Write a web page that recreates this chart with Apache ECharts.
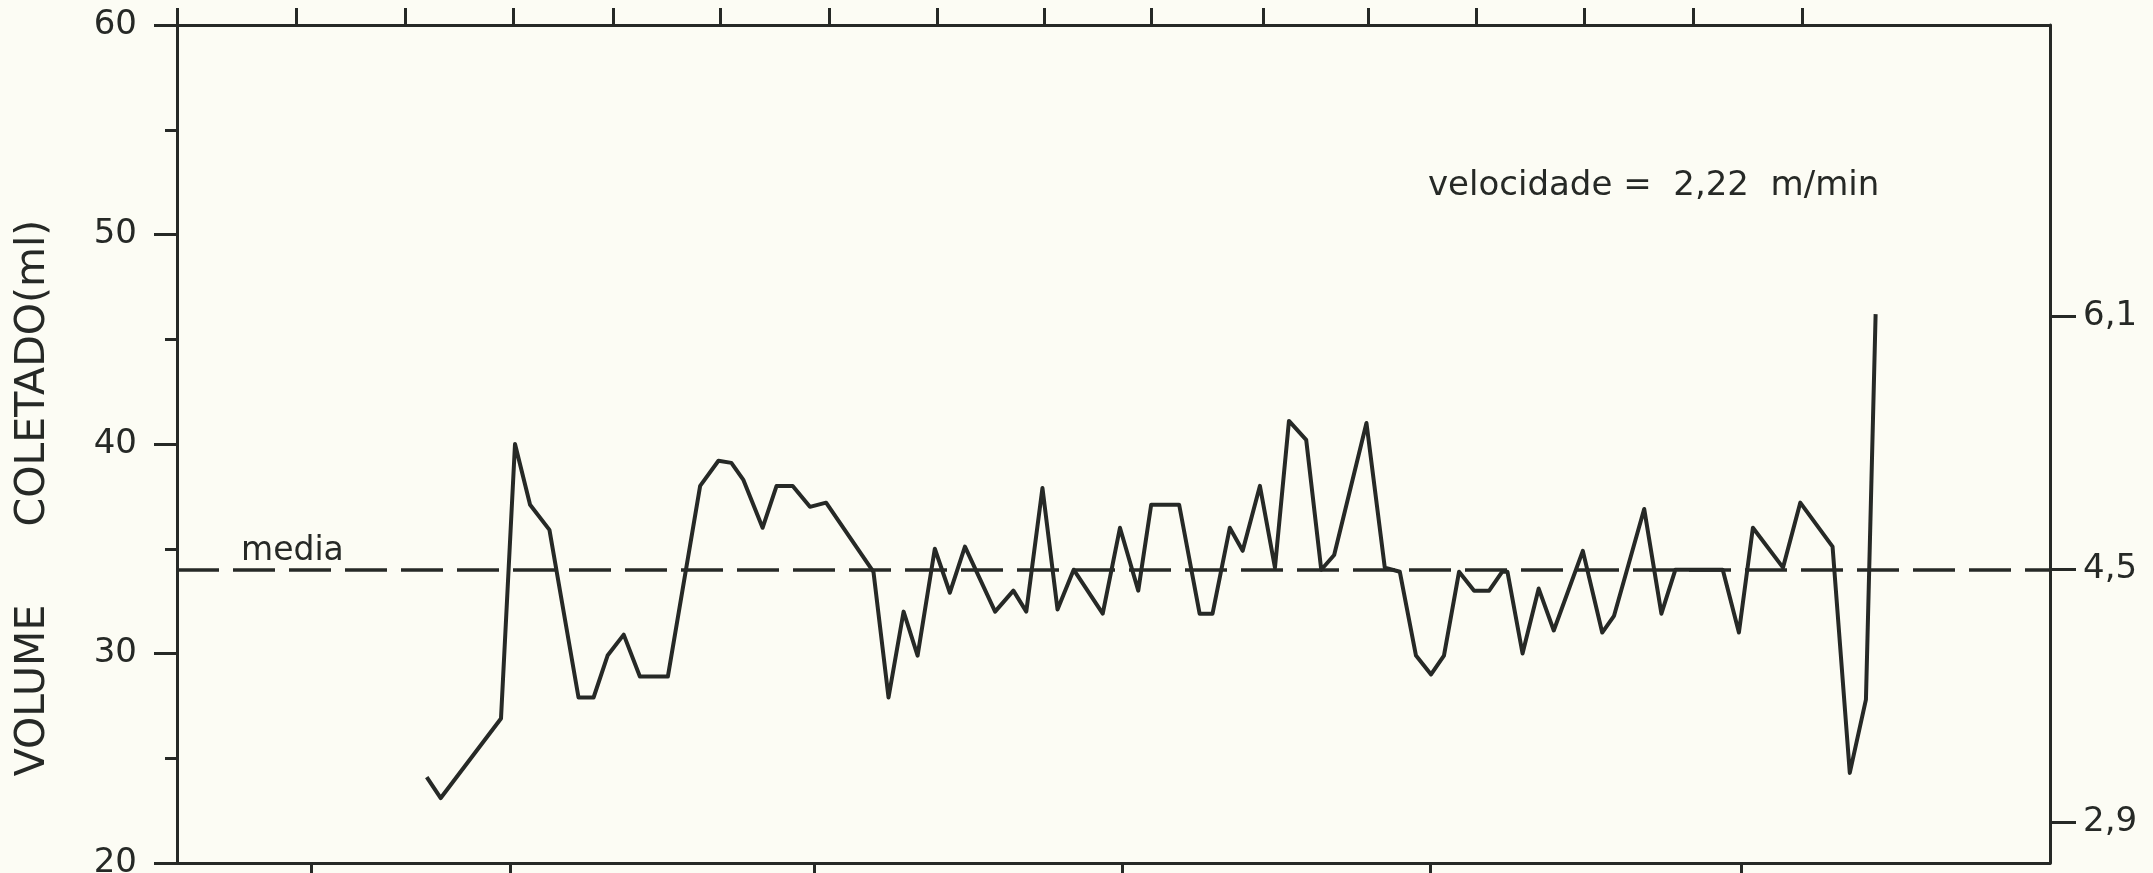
<!DOCTYPE html>
<html>
<head>
<meta charset="utf-8">
<script src="https://cdn.jsdelivr.net/npm/echarts@6/dist/echarts.min.js"></script>
<style>
html,body{margin:0;padding:0;background:#fcfcf4;}
#chart{width:2153px;height:873px;}
</style>
</head>
<body>
<div id="chart"></div>
<script>
// distance along the run (arbitrary units, top ticks about every 10)
const positions = [23.2,24.5,30.1,31.4,32.8,34.6,37.3,38.7,40.0,41.5,43.0,45.6,48.6,50.3,51.5,52.6,54.4,55.7,57.2,58.8,60.3,64.7,66.1,67.5,68.8,70.4,71.8,73.2,76.0,77.7,78.9,80.4,81.8,83.3,86.0,87.6,89.3,90.5,93.1,95.0,96.2,97.8,99.0,100.6,102.0,103.3,104.9,106.3,107.5,110.5,112.2,113.6,115.1,116.5,117.7,119.1,120.5,121.9,123.1,123.6,125.0,126.5,127.9,130.6,132.4,133.5,136.3,137.9,139.2,143.6,145.1,146.4,149.2,150.8,153.8,155.4,156.9,157.8];
// volume collected (ml)
const volumes = [24.1,23.1,26.9,40.0,37.1,35.9,27.9,27.9,29.9,30.9,28.9,28.9,38.0,39.2,39.1,38.3,36.0,38.0,38.0,37.0,37.2,33.9,27.9,32.0,29.9,35.0,32.9,35.1,32.0,33.0,32.0,37.9,32.1,34.0,31.9,36.0,33.0,37.1,37.1,31.9,31.9,36.0,34.9,38.0,34.1,41.1,40.2,34.0,34.7,41.0,34.1,33.9,29.9,29.0,29.9,33.9,33.0,33.0,33.9,33.9,30.0,33.1,31.1,34.9,31.0,31.8,36.9,31.9,34.0,34.0,31.0,36.0,34.1,37.2,35.1,24.3,27.8,46.2];
const mediaValue = 34;
const mediaLabel = 'media';
const topTicks = [0, 11.05, 21.2, 31.2, 40.5, 50.5, 60.6, 70.6, 80.6, 90.5, 100.9, 110.7, 120.7, 130.7, 140.9, 151.0];
const bottomTicks = [12.5, 31.0, 59.2, 87.8, 116.4, 145.3];
const rightTicks = [2.9, 4.5, 6.1];
const yTitle = 'VOLUME      COLETADO(ml)';
const noteText = 'velocidade =  2,22  m/min';

const ink = '#262926';
const font = 'DejaVu Sans';

const chart = echarts.init(document.getElementById('chart'), null, {renderer: 'canvas'});

const axisLineStyle = {show: true, onZero: false, lineStyle: {color: ink, width: 3}};

chart.setOption({
  backgroundColor: '#fcfcf4',
  animation: false,
  grid: {left: 177, right: 103, top: 25, bottom: 10, containLabel: false, outerBoundsMode: 'none'},
  xAxis: [
    {
      type: 'value', position: 'bottom', min: 0, max: 174,
      axisLine: axisLineStyle,
      axisTick: {show: true, customValues: bottomTicks, length: 12, lineStyle: {color: ink, width: 3}},
      axisLabel: {show: false},
      splitLine: {show: false}
    },
    {
      type: 'value', position: 'top', min: 0, max: 174,
      axisLine: axisLineStyle,
      axisTick: {show: true, customValues: topTicks, length: 17, lineStyle: {color: ink, width: 3}},
      axisLabel: {show: false},
      splitLine: {show: false}
    }
  ],
  yAxis: [
    {
      type: 'value', position: 'left', min: 20, max: 60, interval: 10,
      axisLine: axisLineStyle,
      axisTick: {show: true, length: 23, lineStyle: {color: ink, width: 3}},
      minorTick: {show: true, splitNumber: 2, length: 12, lineStyle: {color: ink, width: 3}},
      axisLabel: {color: ink, fontFamily: font, fontSize: 34, margin: 40},
      splitLine: {show: false},
      minorSplitLine: {show: false}
    },
    {
      type: 'value', position: 'right', min: 2.64, max: 7.94,
      axisLine: axisLineStyle,
      axisTick: {show: true, customValues: rightTicks, length: 26, lineStyle: {color: ink, width: 3}},
      axisLabel: {
        show: true, customValues: rightTicks, color: ink, fontFamily: font, fontSize: 34, margin: 33,
        formatter: v => v.toFixed(1).replace('.', ',')
      },
      splitLine: {show: false}
    }
  ],
  series: [
    {
      type: 'line',
      xAxisIndex: 0, yAxisIndex: 0,
      data: positions.map((x, i) => [x, volumes[i]]),
      symbol: 'none',
      lineStyle: {color: ink, width: 4, join: 'round'},
      markLine: {
        silent: true,
        symbol: 'none',
        lineStyle: {color: ink, width: 3.5, type: [42, 14]},
        label: {
          show: true, formatter: mediaLabel, position: 'insideStartTop',
          color: ink, fontFamily: font, fontSize: 33, distance: 2, padding: [0, 0, 0, 62]
        },
        data: [{yAxis: mediaValue}]
      }
    }
  ],
  graphic: [
    {
      type: 'text', x: 33, y: 498, rotation: Math.PI / 2,
      style: {text: yTitle, fill: ink, font: '41px "DejaVu Sans"', align: 'center', verticalAlign: 'middle'}
    },
    {
      type: 'text', x: 1428, y: 186,
      style: {text: noteText, fill: ink, font: '34px "DejaVu Sans"', align: 'left', verticalAlign: 'middle'}
    }
  ]
});
</script>
</body>
</html>
